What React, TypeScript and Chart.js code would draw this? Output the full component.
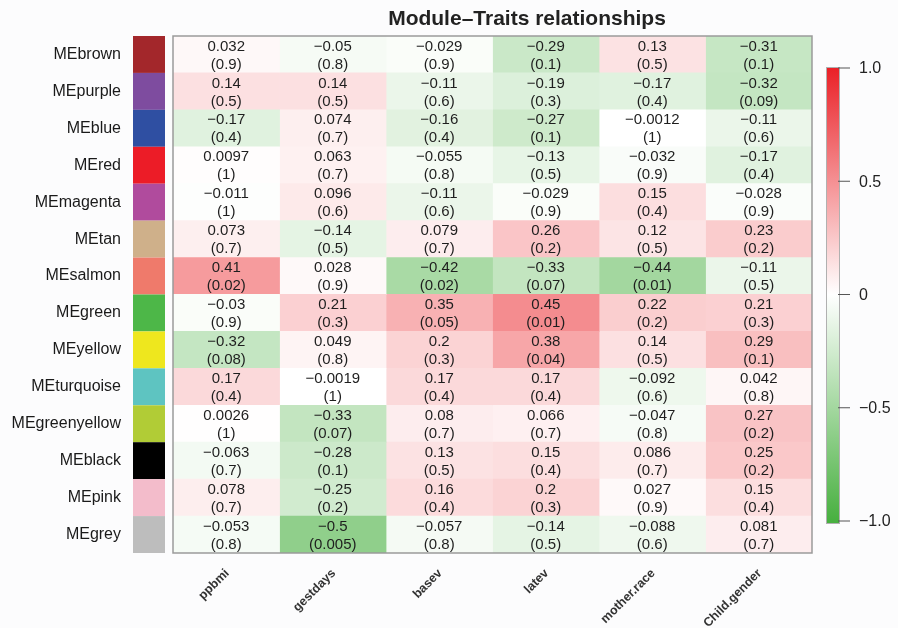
import React, { useEffect, useRef } from "react";
import { Chart, registerables } from "chart.js";

Chart.register(...registerables);

const modules = [
  "MEbrown", "MEpurple", "MEblue", "MEred", "MEmagenta", "MEtan", "MEsalmon",
  "MEgreen", "MEyellow", "MEturquoise", "MEgreenyellow", "MEblack", "MEpink", "MEgrey",
];
const moduleColors = [
  "#a3272b", "#7e4c9f", "#2f4fa2", "#ec1c27", "#b04b9d", "#cfb08a", "#ef7a6b",
  "#4db748", "#eee71e", "#5ec4c1", "#b1cc36", "#000000", "#f3bccb", "#bdbdbd",
];
const traits = ["ppbmi", "gestdays", "basev", "latev", "mother.race", "Child.gender"];

const corBrown = [0.032, -0.05, -0.029, -0.29, 0.13, -0.31];
const corPurple = [0.14, 0.14, -0.11, -0.19, -0.17, -0.32];
const corBlue = [-0.17, 0.074, -0.16, -0.27, -0.0012, -0.11];
const corRed = [0.0097, 0.063, -0.055, -0.13, -0.032, -0.17];
const corMagenta = [-0.011, 0.096, -0.11, -0.029, 0.15, -0.028];
const corTan = [0.073, -0.14, 0.079, 0.26, 0.12, 0.23];
const corSalmon = [0.41, 0.028, -0.42, -0.33, -0.44, -0.11];
const corGreen = [-0.03, 0.21, 0.35, 0.45, 0.22, 0.21];
const corYellow = [-0.32, 0.049, 0.2, 0.38, 0.14, 0.29];
const corTurquoise = [0.17, -0.0019, 0.17, 0.17, -0.092, 0.042];
const corGreenyellow = [0.0026, -0.33, 0.08, 0.066, -0.047, 0.27];
const corBlack = [-0.063, -0.28, 0.13, 0.15, 0.086, 0.25];
const corPink = [0.078, -0.25, 0.16, 0.2, 0.027, 0.15];
const corGrey = [-0.053, -0.5, -0.057, -0.14, -0.088, 0.081];

const pBrown = [0.9, 0.8, 0.9, 0.1, 0.5, 0.1];
const pPurple = [0.5, 0.5, 0.6, 0.3, 0.4, 0.09];
const pBlue = [0.4, 0.7, 0.4, 0.1, 1, 0.6];
const pRed = [1, 0.7, 0.8, 0.5, 0.9, 0.4];
const pMagenta = [1, 0.6, 0.6, 0.9, 0.4, 0.9];
const pTan = [0.7, 0.5, 0.7, 0.2, 0.5, 0.2];
const pSalmon = [0.02, 0.9, 0.02, 0.07, 0.01, 0.5];
const pGreen = [0.9, 0.3, 0.05, 0.01, 0.2, 0.3];
const pYellow = [0.08, 0.8, 0.3, 0.04, 0.5, 0.1];
const pTurquoise = [0.4, 1, 0.4, 0.4, 0.6, 0.8];
const pGreenyellow = [1, 0.07, 0.7, 0.7, 0.8, 0.2];
const pBlack = [0.7, 0.1, 0.5, 0.4, 0.7, 0.2];
const pPink = [0.7, 0.2, 0.4, 0.3, 0.9, 0.4];
const pGrey = [0.8, 0.005, 0.8, 0.5, 0.6, 0.7];

const colorbarTicks = [1, 0.5, 0, -0.5, -1];
const colorbarTickLabels = ["1.0", "0.5", "0", "\u22120.5", "\u22121.0"];

const corMatrix = [
  corBrown, corPurple, corBlue, corRed, corMagenta, corTan, corSalmon,
  corGreen, corYellow, corTurquoise, corGreenyellow, corBlack, corPink, corGrey,
];
const pMatrix = [
  pBrown, pPurple, pBlue, pRed, pMagenta, pTan, pSalmon,
  pGreen, pYellow, pTurquoise, pGreenyellow, pBlack, pPink, pGrey,
];

const RED = [234, 33, 39];
const GREEN = [72, 176, 64];

function cellColor(v: number): string {
  const a = Math.abs(v);
  let m = a <= 0.35 ? a : 0.35 + (a - 0.35) * 1.7;
  m = Math.min(1, m);
  const end = v >= 0 ? RED : GREEN;
  const c = end.map((e) => Math.round(255 - m * (255 - e)));
  return `rgb(${c[0]},${c[1]},${c[2]})`;
}

function fmt(v: number): string {
  return String(v).replace("-", "\u2212");
}

const FONT = "'Liberation Sans', Arial, Helvetica, sans-serif";

const overlayPlugin = {
  id: "overlay",
  beforeDraw(chart: any) {
    const ctx = chart.ctx;
    ctx.save();
    ctx.fillStyle = "#fcfcfd";
    ctx.fillRect(0, 0, chart.width, chart.height);
    ctx.restore();
  },
  afterDatasetsDraw(chart: any) {
    const ctx = chart.ctx;
    const xs = chart.scales.x;
    const ys = chart.scales.y;
    const area = chart.chartArea;
    ctx.save();
    // cell text
    ctx.fillStyle = "#1e1e1e";
    ctx.font = `15px ${FONT}`;
    ctx.textAlign = "center";
    ctx.textBaseline = "middle";
    for (let r = 0; r < modules.length; r++) {
      const cy = ys.getPixelForValue(r);
      for (let t = 0; t < traits.length; t++) {
        const cx = xs.getPixelForValue(t + 0.5);
        ctx.fillText(fmt(corMatrix[r][t]), cx, cy - 8);
        ctx.fillText("(" + fmt(pMatrix[r][t]) + ")", cx, cy + 10);
      }
    }
    // border around heatmap
    ctx.strokeStyle = "#9a9a9a";
    ctx.lineWidth = 1.5;
    ctx.strokeRect(area.left, area.top, area.right - area.left, area.bottom - area.top);

    // module colour swatches
    const step = (area.bottom - area.top) / modules.length;
    for (let r = 0; r < modules.length; r++) {
      const cy = ys.getPixelForValue(r);
      ctx.fillStyle = moduleColors[r];
      ctx.fillRect(area.left - 40, cy - step / 2, 32, step);
    }

    // title
    ctx.fillStyle = "#222";
    ctx.font = `bold 21px ${FONT}`;
    ctx.textAlign = "center";
    ctx.textBaseline = "alphabetic";
    ctx.fillText("Module\u2013Traits relationships", 527, 25);

    // colour bar
    const cbLeft = 826, cbRight = 840, cbTop = 67, cbBottom = 524;
    const vTop = 68, vBottom = 521;
    const vToY = (v: number) => vTop + ((1 - v) / 2) * (vBottom - vTop);
    const g = ctx.createLinearGradient(0, vToY(1), 0, vToY(-1));
    g.addColorStop(0, `rgb(${RED.join(",")})`);
    g.addColorStop(0.5, "#ffffff");
    g.addColorStop(1, `rgb(${GREEN.join(",")})`);
    ctx.fillStyle = g;
    ctx.fillRect(cbLeft, cbTop, cbRight - cbLeft, cbBottom - cbTop);
    ctx.strokeStyle = "#b0b0b0";
    ctx.lineWidth = 1;
    ctx.strokeRect(cbLeft + 0.5, cbTop + 0.5, cbRight - cbLeft - 1, cbBottom - cbTop - 1);
    ctx.strokeStyle = "#555";
    ctx.fillStyle = "#222";
    ctx.font = `16px ${FONT}`;
    ctx.textAlign = "left";
    ctx.textBaseline = "middle";
    colorbarTicks.forEach((v, i) => {
      const y = vToY(v);
      ctx.beginPath();
      ctx.moveTo(cbRight - 2, y);
      ctx.lineTo(cbRight + 10, y);
      ctx.stroke();
      ctx.fillText(colorbarTickLabels[i], 859, y + 1);
    });
    ctx.restore();
  },
};

export default function App() {
  const ref = useRef<HTMLCanvasElement | null>(null);
  useEffect(() => {
    document.body.style.margin = "0";
    const canvas = ref.current!;
    const datasets = traits.map((tr, t) => ({
      label: tr,
      data: modules.map(() => 1),
      backgroundColor: modules.map((_, r) => cellColor(corMatrix[r][t])),
      borderWidth: 0,
      barPercentage: 1,
      categoryPercentage: 1,
      inflateAmount: 0.4,
    }));
    const chart = new Chart(canvas, {
      type: "bar",
      data: { labels: modules, datasets },
      options: {
        indexAxis: "y",
        responsive: false,
        animation: false,
        layout: { padding: { top: 36, right: 86, left: 0, bottom: 0 } },
        plugins: { legend: { display: false }, title: { display: false }, tooltip: { enabled: false } },
        scales: {
          x: {
            type: "linear",
            stacked: true,
            min: 0,
            max: 6,
            grid: { display: false, drawTicks: false },
            border: { display: false },
            afterBuildTicks: (scale: any) => {
              scale.ticks = traits.map((_, i) => ({ value: i + 0.5 }));
            },
            afterFit: (scale: any) => {
              scale.height = 75;
              scale.paddingLeft = 0;
              scale.paddingRight = 0;
            },
            ticks: {
              autoSkip: false,
              minRotation: 45,
              maxRotation: 45,
              padding: 13,
              labelOffset: 1,
              color: "#333",
              font: { family: FONT, size: 12.5, weight: "bold" },
              callback: (_v: any, i: number) => traits[i],
            },
          },
          y: {
            type: "category",
            stacked: true,
            grid: { display: false, drawTicks: false },
            border: { display: false },
            afterFit: (scale: any) => {
              scale.width = 173;
              scale.paddingTop = 0;
              scale.paddingBottom = 0;
            },
            ticks: {
              padding: 52,
              color: "#1a1a1a",
              font: { family: FONT, size: 16 },
            },
          },
        },
      },
      plugins: [overlayPlugin],
    } as any);
    return () => chart.destroy();
  }, []);
  return (
    <div style={{ width: 898, height: 628 }}>
      <canvas ref={ref} width={898} height={628} />
    </div>
  );
}
